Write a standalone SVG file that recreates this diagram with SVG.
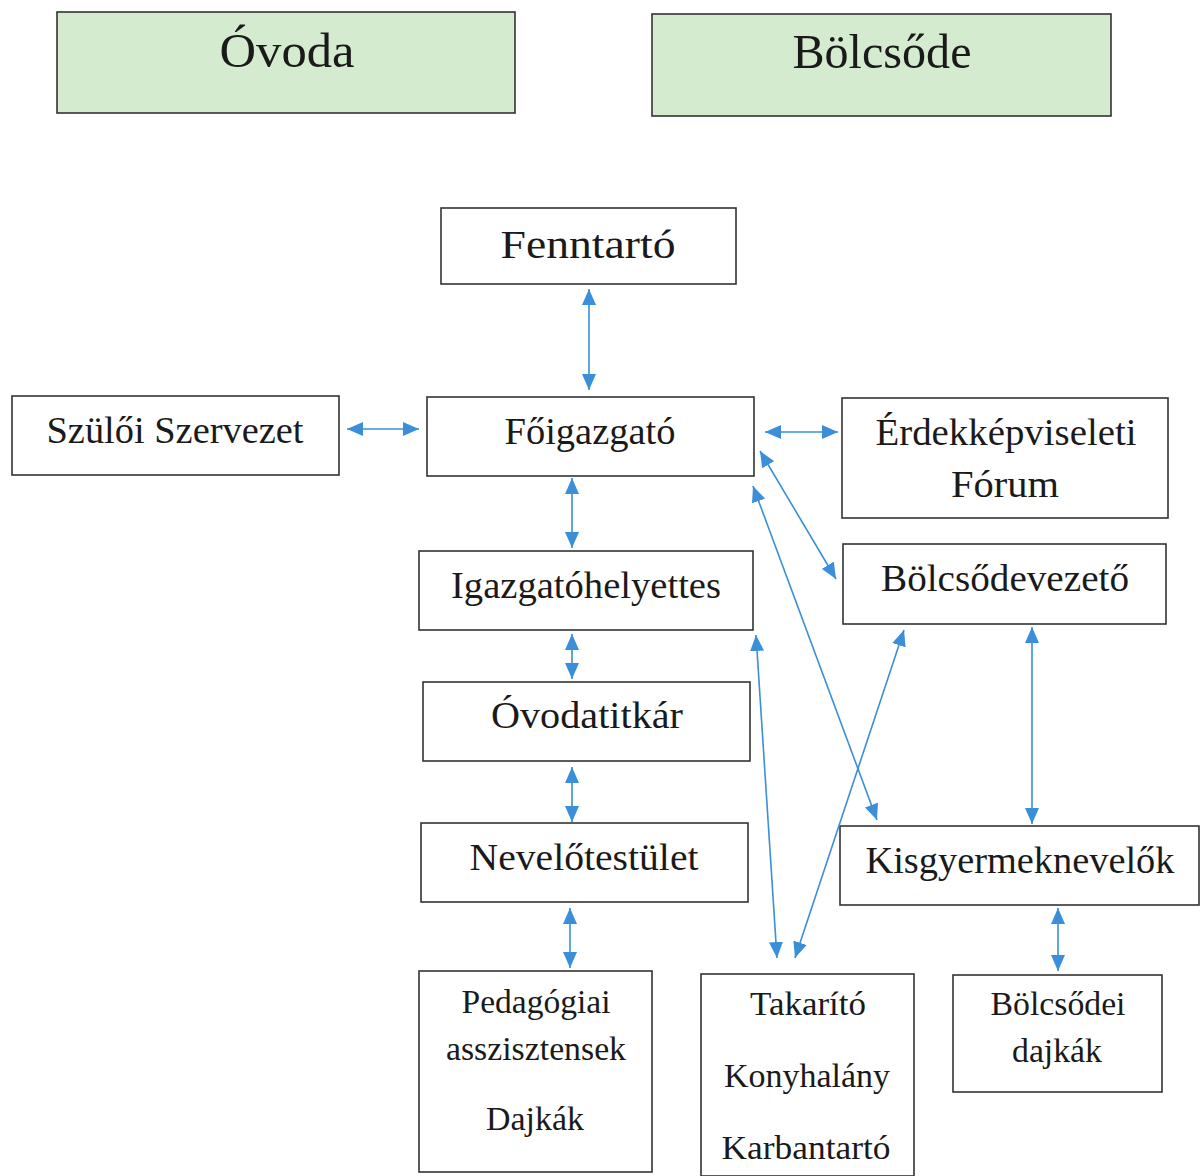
<svg xmlns="http://www.w3.org/2000/svg" width="1200" height="1176" viewBox="0 0 1200 1176">
<style>
.box{fill:#fff;stroke:#333;stroke-width:1.6}
.hdr{fill:#d5ebcf;stroke:#333;stroke-width:1.6}
text{font-family:"Liberation Serif","DejaVu Serif",serif;fill:#1a1a1a;text-anchor:middle}
.t{font-size:38px}
.h{font-size:49px}
.s{font-size:34px}
.c{stroke:#3a8fd8;stroke-width:1.6;fill:none;marker-start:url(#ah);marker-end:url(#ah)}
</style>
<defs>
<marker id="ah" markerUnits="userSpaceOnUse" markerWidth="18" markerHeight="14" refX="16" refY="7" orient="auto-start-reverse">
<path d="M0,0 L16,7 L0,14 Z" fill="#3a8fd8"/>
</marker>
</defs>
<rect width="1200" height="1176" fill="#fff"/>
<g id="ovoda"><rect class="hdr" x="57" y="12" width="458" height="101"/><text class="h" x="287" y="67" textLength="135" lengthAdjust="spacingAndGlyphs">Óvoda</text></g>
<g id="bolcsode"><rect class="hdr" x="652" y="14" width="459" height="102"/><text class="h" x="882" y="68" textLength="179" lengthAdjust="spacingAndGlyphs">Bölcsőde</text></g>
<g id="fenntarto"><rect class="box" x="441" y="208" width="295" height="76"/><text class="t" x="588" y="258" style="font-size:41px" textLength="175" lengthAdjust="spacingAndGlyphs">Fenntartó</text></g>
<g id="szuloi"><rect class="box" x="12" y="396" width="327" height="79"/><text class="t" x="175" y="443" textLength="257" lengthAdjust="spacingAndGlyphs">Szülői Szervezet</text></g>
<g id="foigazgato"><rect class="box" x="427" y="397" width="327" height="79"/><text class="t" x="590" y="444" textLength="171" lengthAdjust="spacingAndGlyphs">Főigazgató</text></g>
<g id="erdek"><rect class="box" x="842" y="398" width="326" height="120"/><text class="t" x="1006" y="445" textLength="261" lengthAdjust="spacingAndGlyphs">Érdekképviseleti</text><text class="t" x="1005" y="497" textLength="108" lengthAdjust="spacingAndGlyphs">Fórum</text></g>
<g id="bolcsodevezeto"><rect class="box" x="843" y="544" width="323" height="80"/><text class="t" x="1005" y="591" textLength="248" lengthAdjust="spacingAndGlyphs">Bölcsődevezető</text></g>
<g id="igazgatohelyettes"><rect class="box" x="419" y="551" width="334" height="79"/><text class="t" x="586" y="598" textLength="270" lengthAdjust="spacingAndGlyphs">Igazgatóhelyettes</text></g>
<g id="ovodatitkar"><rect class="box" x="423" y="682" width="327" height="79"/><text class="t" x="587" y="728" textLength="192" lengthAdjust="spacingAndGlyphs">Óvodatitkár</text></g>
<g id="nevelotestulet"><rect class="box" x="421" y="823" width="327" height="79"/><text class="t" x="584" y="870" textLength="229" lengthAdjust="spacingAndGlyphs">Nevelőtestület</text></g>
<g id="kisgyermeknevelok"><rect class="box" x="840" y="826" width="359" height="79"/><text class="t" x="1020" y="873" textLength="309" lengthAdjust="spacingAndGlyphs">Kisgyermeknevelők</text></g>
<g id="pedagogiai"><rect class="box" x="419" y="971" width="233" height="201"/><text class="s" x="536" y="1013" textLength="149" lengthAdjust="spacingAndGlyphs">Pedagógiai</text><text class="s" x="536" y="1060" textLength="180" lengthAdjust="spacingAndGlyphs">asszisztensek</text><text class="s" x="535" y="1130" textLength="98" lengthAdjust="spacingAndGlyphs">Dajkák</text></g>
<g id="takarito"><rect class="box" x="701" y="974" width="213" height="202"/><text class="s" x="808" y="1015" textLength="116" lengthAdjust="spacingAndGlyphs">Takarító</text><text class="s" x="807" y="1087" textLength="166" lengthAdjust="spacingAndGlyphs">Konyhalány</text><text class="s" x="806" y="1159" textLength="169" lengthAdjust="spacingAndGlyphs">Karbantartó</text></g>
<g id="bolcsodei-dajkak"><rect class="box" x="953" y="975" width="209" height="117"/><text class="s" x="1058" y="1015" textLength="135" lengthAdjust="spacingAndGlyphs">Bölcsődei</text><text class="s" x="1057" y="1062" textLength="90" lengthAdjust="spacingAndGlyphs">dajkák</text></g>
<g id="connectors">
<line class="c" x1="589" y1="289" x2="589" y2="390"/>
<line class="c" x1="347" y1="429" x2="419" y2="429"/>
<line class="c" x1="765" y1="432" x2="838" y2="432"/>
<line class="c" x1="760" y1="451" x2="836" y2="579"/>
<line class="c" x1="753" y1="486" x2="877" y2="820"/>
<line class="c" x1="572" y1="478" x2="572" y2="548"/>
<line class="c" x1="572" y1="634" x2="572" y2="679"/>
<line class="c" x1="572" y1="767" x2="572" y2="822"/>
<line class="c" x1="570" y1="908" x2="570" y2="968"/>
<line class="c" x1="756" y1="635" x2="777" y2="958"/>
<line class="c" x1="904" y1="630" x2="795" y2="958"/>
<line class="c" x1="1032" y1="627" x2="1032" y2="824"/>
<line class="c" x1="1058" y1="908" x2="1058" y2="971"/>
</g>
</svg>
